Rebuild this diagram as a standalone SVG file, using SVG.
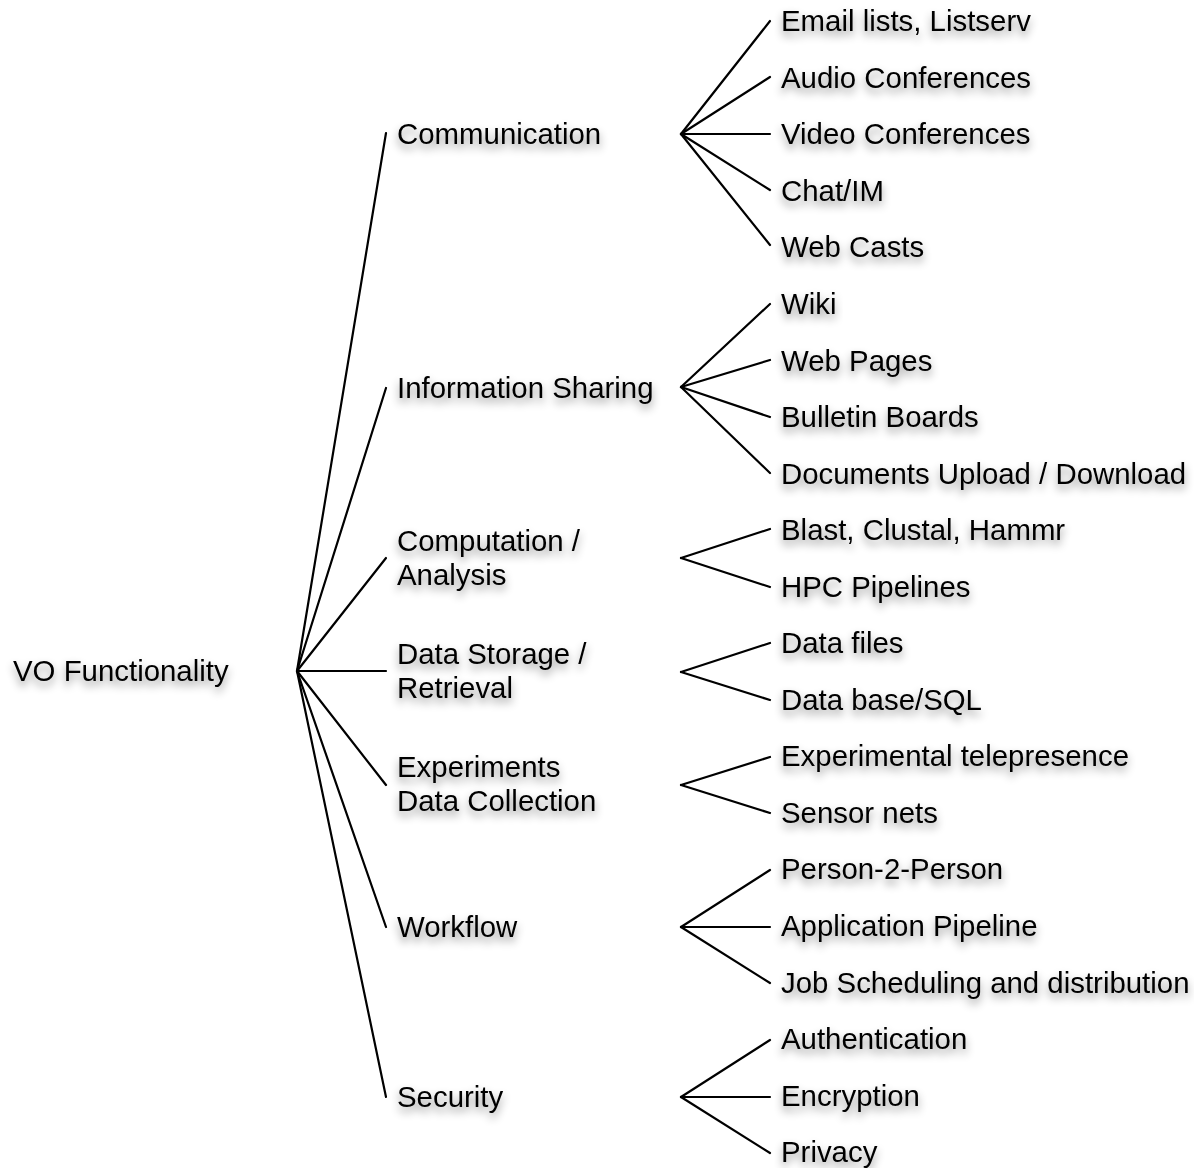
<svg xmlns="http://www.w3.org/2000/svg" width="1194" height="1168" viewBox="0 0 1194 1168">
<defs>
<filter id="sh" x="-10%" y="-50%" width="120%" height="220%">
<feDropShadow dx="0" dy="5" stdDeviation="4" flood-color="#000" flood-opacity="0.45"/>
</filter>
</defs>
<style>
text{font-family:"Liberation Sans",Arial,Helvetica,sans-serif;font-size:29.4px;fill:#000;filter:url(#sh)}
.c line{stroke:#000;stroke-width:2.2;stroke-linecap:round}
</style>
<rect width="1194" height="1168" fill="#fff"/>
<g class="c" id="connectors">
<line x1="297" y1="671" x2="386" y2="133"/>
<line x1="297" y1="671" x2="386" y2="388"/>
<line x1="297" y1="671" x2="386" y2="558"/>
<line x1="297" y1="671" x2="386" y2="671"/>
<line x1="297" y1="671" x2="386" y2="785"/>
<line x1="297" y1="671" x2="386" y2="927"/>
<line x1="297" y1="671" x2="386" y2="1097"/>
<line x1="681" y1="134" x2="770" y2="21"/>
<line x1="681" y1="134" x2="770" y2="77"/>
<line x1="681" y1="134" x2="770" y2="134"/>
<line x1="681" y1="134" x2="770" y2="190"/>
<line x1="681" y1="134" x2="770" y2="245"/>
<line x1="681" y1="387" x2="770" y2="304"/>
<line x1="681" y1="387" x2="770" y2="360"/>
<line x1="681" y1="387" x2="770" y2="417"/>
<line x1="681" y1="387" x2="770" y2="473"/>
<line x1="681" y1="558" x2="770" y2="529"/>
<line x1="681" y1="558" x2="770" y2="587"/>
<line x1="681" y1="672" x2="770" y2="643"/>
<line x1="681" y1="672" x2="770" y2="700"/>
<line x1="681" y1="785" x2="770" y2="757"/>
<line x1="681" y1="785" x2="770" y2="813"/>
<line x1="681" y1="927" x2="770" y2="870"/>
<line x1="681" y1="927" x2="770" y2="927"/>
<line x1="681" y1="927" x2="770" y2="983"/>
<line x1="681" y1="1097" x2="770" y2="1040"/>
<line x1="681" y1="1097" x2="770" y2="1097"/>
<line x1="681" y1="1097" x2="770" y2="1153"/>
</g>
<g id="root"><text x="13" y="681">VO Functionality</text></g>
<g id="communication"><text x="397" y="144">Communication</text></g>
<g id="information-sharing"><text x="397" y="398">Information Sharing</text></g>
<g id="computation"><text x="397" y="551">Computation /</text><text x="397" y="585">Analysis</text></g>
<g id="data-storage"><text x="397" y="664">Data Storage /</text><text x="397" y="698">Retrieval</text></g>
<g id="experiments"><text x="397" y="777">Experiments</text><text x="397" y="811">Data Collection</text></g>
<g id="workflow"><text x="397" y="937">Workflow</text></g>
<g id="security"><text x="397" y="1107">Security</text></g>
<g id="email"><text x="781" y="31">Email lists, Listserv</text></g>
<g id="audio"><text x="781" y="88">Audio Conferences</text></g>
<g id="video"><text x="781" y="144">Video Conferences</text></g>
<g id="chat"><text x="781" y="201">Chat/IM</text></g>
<g id="webcasts"><text x="781" y="257">Web Casts</text></g>
<g id="wiki"><text x="781" y="314">Wiki</text></g>
<g id="webpages"><text x="781" y="371">Web Pages</text></g>
<g id="bulletin"><text x="781" y="427">Bulletin Boards</text></g>
<g id="documents"><text x="781" y="484">Documents Upload / Download</text></g>
<g id="blast"><text x="781" y="540">Blast, Clustal, Hammr</text></g>
<g id="hpc"><text x="781" y="597">HPC Pipelines</text></g>
<g id="datafiles"><text x="781" y="653">Data files</text></g>
<g id="database"><text x="781" y="710">Data base/SQL</text></g>
<g id="telepresence"><text x="781" y="766">Experimental telepresence</text></g>
<g id="sensor"><text x="781" y="823">Sensor nets</text></g>
<g id="p2p"><text x="781" y="879">Person-2-Person</text></g>
<g id="apppipeline"><text x="781" y="936">Application Pipeline</text></g>
<g id="jobsched"><text x="781" y="993">Job Scheduling and distribution</text></g>
<g id="auth"><text x="781" y="1049">Authentication</text></g>
<g id="encryption"><text x="781" y="1106">Encryption</text></g>
<g id="privacy"><text x="781" y="1162">Privacy</text></g>
</svg>
